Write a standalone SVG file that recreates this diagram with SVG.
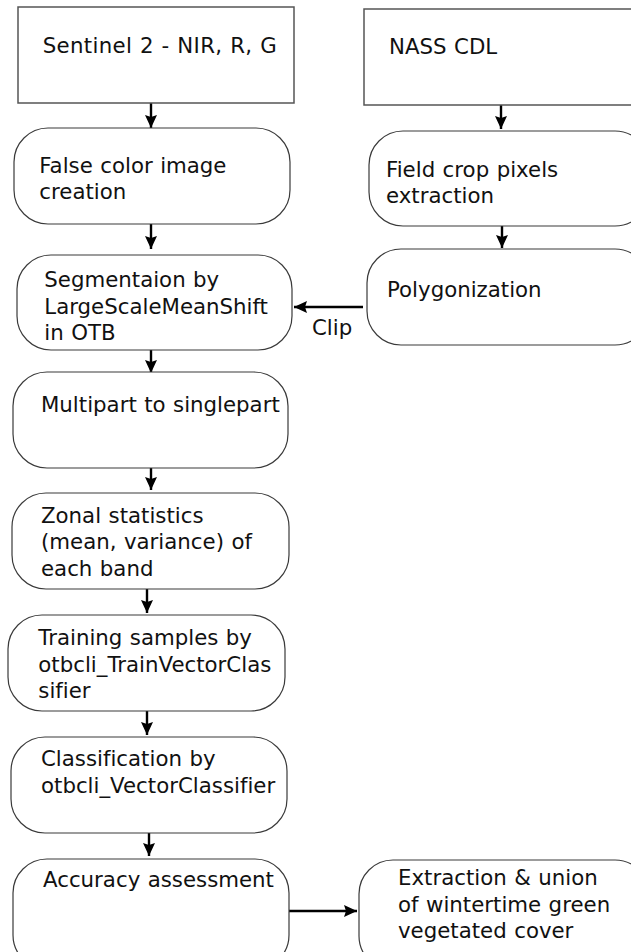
<svg xmlns="http://www.w3.org/2000/svg" width="631" height="952" viewBox="0 0 631 952">
<style>
.box{fill:#fff;stroke:#3a3a3a;stroke-width:1.2}
.src{fill:#fff;stroke:#555;stroke-width:1.5}
.t{font-family:"DejaVu Sans",Verdana,sans-serif;font-size:21.3px;fill:#111;font-variant-ligatures:none;word-spacing:0.7px}
.c{stroke:#000;stroke-width:2.4;fill:none}
</style>
<defs>
<marker id="ah" viewBox="0 0 13 12" refX="13" refY="6" markerWidth="13" markerHeight="12" markerUnits="userSpaceOnUse" orient="auto">
<path d="M0,0 L13,6 L0,12 L2,6 Z" fill="#000"/>
</marker>
</defs>
<rect width="631" height="952" fill="#fff"/>
<g id="connectors">
<line class="c" x1="151" y1="103" x2="151" y2="128" marker-end="url(#ah)"/>
<line class="c" x1="151" y1="224" x2="151" y2="249" marker-end="url(#ah)"/>
<line class="c" x1="151" y1="350" x2="151" y2="373" marker-end="url(#ah)"/>
<line class="c" x1="151" y1="468" x2="151" y2="490" marker-end="url(#ah)"/>
<line class="c" x1="147" y1="589" x2="147" y2="613" marker-end="url(#ah)"/>
<line class="c" x1="147" y1="711" x2="147" y2="735" marker-end="url(#ah)"/>
<line class="c" x1="149" y1="833" x2="149" y2="856" marker-end="url(#ah)"/>
<line class="c" x1="289" y1="911" x2="357" y2="911" marker-end="url(#ah)"/>
<line class="c" x1="501" y1="105" x2="501" y2="129" marker-end="url(#ah)"/>
<line class="c" x1="502" y1="226" x2="502" y2="248" marker-end="url(#ah)"/>
<line class="c" x1="363" y1="307" x2="294" y2="307" marker-end="url(#ah)"/>
<text class="t" x="312" y="335">Clip</text>
</g>
<g id="sentinel">
<rect class="src" x="18" y="7" width="276" height="96"/>
<text class="t" x="42.7" y="52.7" textLength="234" lengthAdjust="spacing">Sentinel 2 - NIR, R, G</text>
</g>
<g id="nass">
<rect class="src" x="364" y="9" width="290" height="96"/>
<text class="t" x="389" y="54">NASS CDL</text>
</g>
<g id="falsecolor">
<rect class="box" x="14" y="128" width="276" height="96" rx="34" ry="34"/>
<text class="t" x="39.3" y="172.7">False color image</text>
<text class="t" x="39.3" y="199">creation</text>
</g>
<g id="fieldcrop">
<rect class="box" x="369" y="131" width="280" height="95" rx="34" ry="34"/>
<text class="t" x="386" y="177">Field crop pixels</text>
<text class="t" x="386" y="203">extraction</text>
</g>
<g id="segmentation">
<rect class="box" x="17" y="255" width="275" height="95" rx="34" ry="34"/>
<text class="t" x="44.3" y="287.3">Segmentaion by</text>
<text class="t" x="44.3" y="314">LargeScaleMeanShift</text>
<text class="t" x="44.3" y="340">in OTB</text>
</g>
<g id="polygonization">
<rect class="box" x="367" y="249" width="282" height="96" rx="34" ry="34"/>
<text class="t" x="387" y="297">Polygonization</text>
</g>
<g id="multipart">
<rect class="box" x="13" y="372" width="275" height="96" rx="34" ry="34"/>
<text class="t" x="41" y="412">Multipart to singlepart</text>
</g>
<g id="zonal">
<rect class="box" x="12" y="493" width="277" height="96" rx="34" ry="34"/>
<text class="t" x="41" y="523">Zonal statistics</text>
<text class="t" x="41" y="549.3">(mean, variance) of</text>
<text class="t" x="41" y="576">each band</text>
</g>
<g id="training">
<rect class="box" x="8" y="615" width="277" height="96" rx="34" ry="34"/>
<text class="t" x="38.3" y="645">Training samples by</text>
<text class="t" x="38.3" y="671.7">otbcli_TrainVectorClas</text>
<text class="t" x="38.3" y="698">sifier</text>
</g>
<g id="classification">
<rect class="box" x="11" y="737" width="276" height="96" rx="34" ry="34"/>
<text class="t" x="41" y="766">Classification by</text>
<text class="t" x="41" y="793">otbcli_VectorClassifier</text>
</g>
<g id="accuracy">
<rect class="box" x="13" y="859" width="276" height="110" rx="34" ry="34"/>
<text class="t" x="43" y="887">Accuracy assessment</text>
</g>
<g id="extraction">
<rect class="box" x="359" y="860" width="290" height="110" rx="34" ry="34"/>
<text class="t" x="398" y="885">Extraction &amp; union</text>
<text class="t" x="398" y="912">of wintertime green</text>
<text class="t" x="398" y="938">vegetated cover</text>
</g>
</svg>
